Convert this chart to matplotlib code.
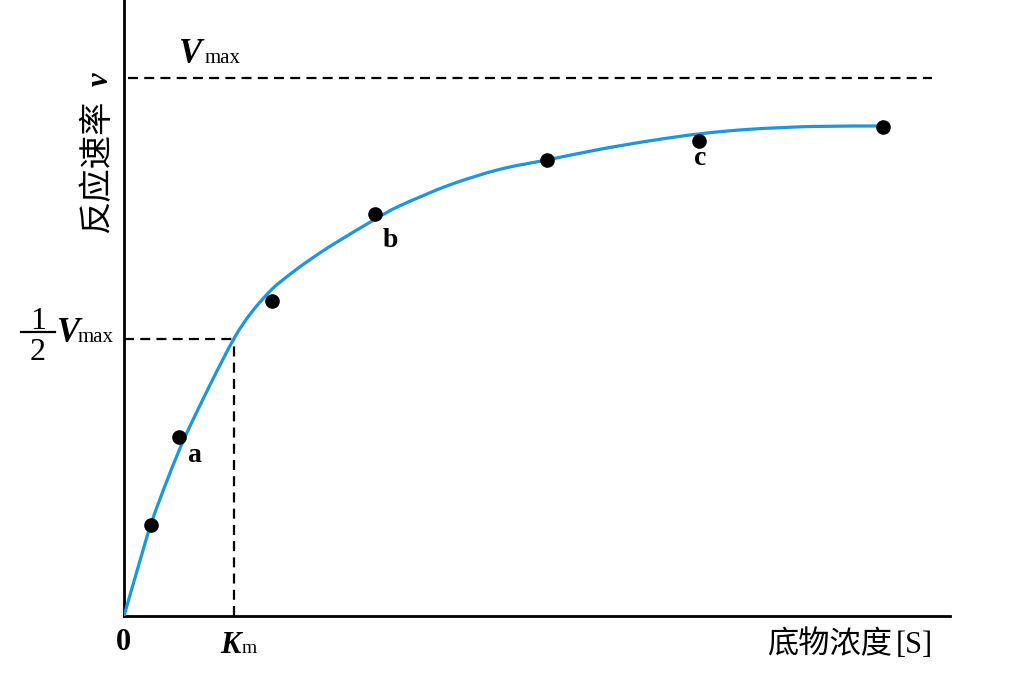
import matplotlib
matplotlib.use("Agg")
import matplotlib.pyplot as plt
from matplotlib.lines import Line2D
from matplotlib.path import Path
from matplotlib.patches import PathPatch

W, H = 1014, 678

# curve (substrate conc, rate; Vmax = 1)
curve_s = [0, 0.157, 0.327, 0.533, 0.738, 1.041, 1.332, 1.538, 1.788, 2.022, 2.264,
           2.530, 3.039, 3.341, 3.947, 4.552, 5.117, 5.763, 6.368, 6.973, 7.579,
           8.341, 9.165]
curve_v = [0, 0.0836, 0.171, 0.2565, 0.3327, 0.4294, 0.5158, 0.5632, 0.6069, 0.6366,
           0.6636, 0.6905, 0.7374, 0.7625, 0.8015, 0.8303, 0.8476, 0.8675, 0.8833,
           0.8963, 0.9047, 0.9099, 0.9108]

# measured points
pts_s = [0.331, 0.666, 1.788, 3.039, 5.117, 6.965, 9.193]
pts_v = [0.170, 0.333, 0.586, 0.748, 0.847, 0.883, 0.909]

vmax = 1.0
half_vmax = 0.514
km = 1.332
vmax_line_x = (0.05, 9.78)

serif = "Liberation Serif"
cjk = "Noto Sans CJK SC"


def fx(x):
    return x / W


def fy(y):
    return 1 - y / H


def smooth_path(xs, ys):
    # catmull-rom through the traced points, drawn as cubic beziers
    p = list(zip(xs, ys))
    p = [p[0]] + p + [p[-1]]
    verts = [p[1]]
    codes = [Path.MOVETO]
    for i in range(1, len(p) - 2):
        p0, p1, p2, p3 = p[i - 1], p[i], p[i + 1], p[i + 2]
        c1 = (p1[0] + (p2[0] - p0[0]) / 6, p1[1] + (p2[1] - p0[1]) / 6)
        c2 = (p2[0] - (p3[0] - p1[0]) / 6, p2[1] - (p3[1] - p1[1]) / 6)
        verts += [c1, c2, p2]
        codes += [Path.CURVE4] * 3
    return Path(verts, codes)


fig = plt.figure(figsize=(W / 100, H / 100), dpi=100)
ax = fig.add_axes([fx(124), fy(616), (950 - 124) / W, 616 / H])
ax.set_xlim(0, 10.0)
ax.set_ylim(0, 616 / 538)
for side in ("top", "right"):
    ax.spines[side].set_visible(False)
for side in ("left", "bottom"):
    ax.spines[side].set_linewidth(2.0)
ax.set_xticks([])
ax.set_yticks([])

dash = (0, (4.5, 2.8))
ax.plot(vmax_line_x, [vmax, vmax], color="black", lw=1.6, linestyle=dash)
ax.plot([0, km], [half_vmax, half_vmax], color="black", lw=1.6, linestyle=dash)
ax.plot([km, km], [0, half_vmax], color="black", lw=1.6, linestyle=dash)

ax.add_patch(PathPatch(smooth_path(curve_s, curve_v), facecolor="none",
                       edgecolor="#1e96dc", lw=2.3, capstyle="round", zorder=3))
ax.plot(pts_s, pts_v, "o", color="black", markersize=9.5, zorder=4)

# text pieces, placed by pixel position
def txt(x, y, s, **kw):
    fig.text(fx(x), fy(y), s, **kw)

txt(179, 63.3, "V", family=serif, weight="bold", style="italic", size=25, va="baseline")
txt(205, 63.3, "max", family=serif, size=15, va="baseline")

txt(38, 329, "1", family=serif, size=23, ha="center", va="baseline")
txt(38, 360, "2", family=serif, size=23, ha="center", va="baseline")
fig.add_artist(Line2D([fx(21), fx(55)], [fy(332), fy(332)], color="black", lw=1.6))
txt(57, 342, "V", family=serif, weight="bold", style="italic", size=25, va="baseline")
txt(78, 342, "max", family=serif, size=15, va="baseline")

txt(123.3, 650, "0", family=serif, weight="bold", size=22, ha="center", va="baseline")
txt(220, 653.3, "K", family=serif, weight="bold", style="italic", size=22, va="baseline")
txt(242, 653.3, "m", family=serif, size=14, va="baseline")

txt(767, 653, "底物浓度", family=cjk, size=22.5, va="baseline")
txt(896, 653, "[S]", family=serif, size=22, va="baseline")

txt(97, 233, "反应速率", family=cjk, size=24, rotation=90, ha="center", va="bottom")
txt(100, 86, "v", family=serif, weight="bold", style="italic", size=22, rotation=90,
    ha="center", va="bottom")

txt(194, 461.7, "a", family=serif, weight="bold", size=20, ha="center", va="baseline")
txt(390.7, 246.7, "b", family=serif, weight="bold", size=20, ha="center", va="baseline")
txt(700, 165, "c", family=serif, weight="bold", size=20, ha="center", va="baseline")

fig.savefig("out.png", dpi=100)
